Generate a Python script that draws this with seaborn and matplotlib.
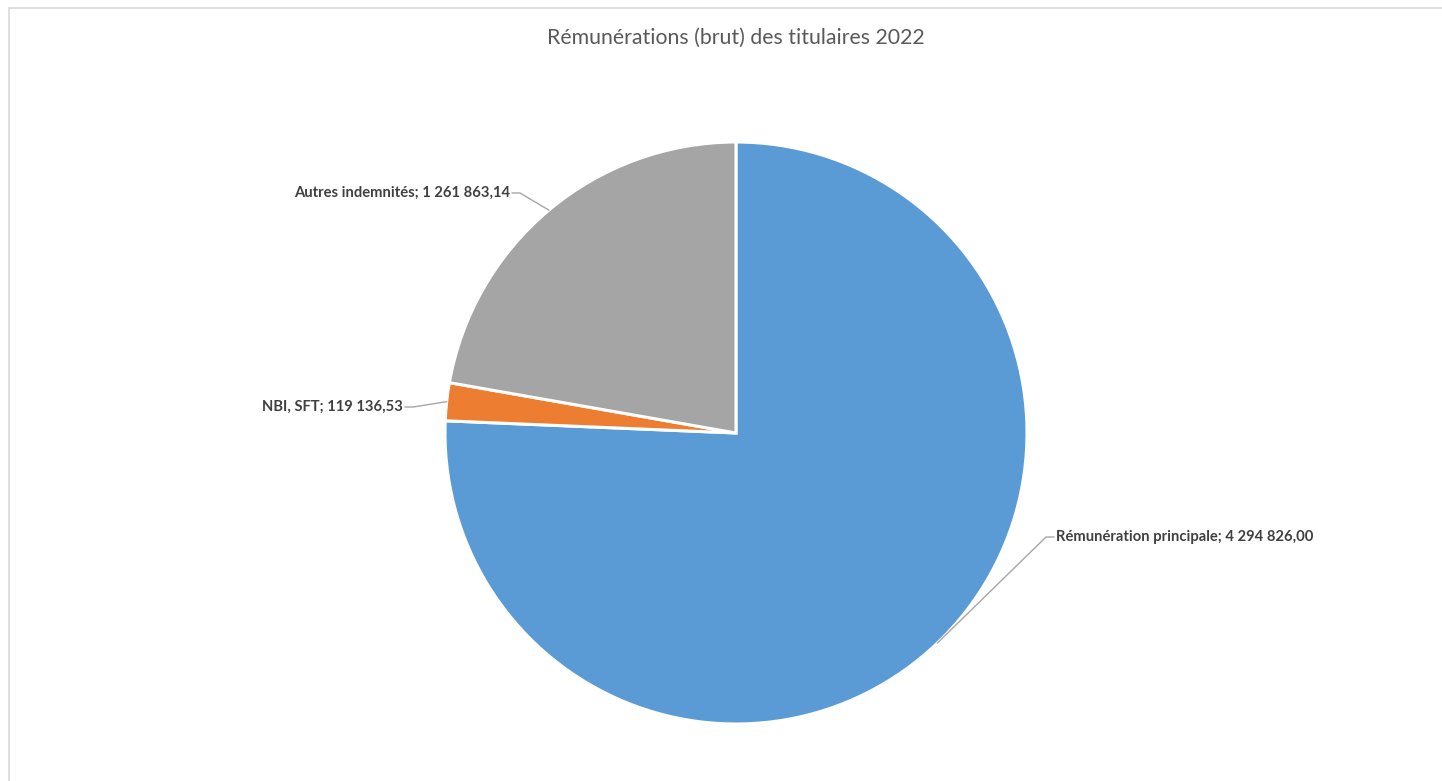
import numpy as np
import matplotlib
matplotlib.use("Agg")
import matplotlib.pyplot as plt
import seaborn as sns
from matplotlib.patches import Rectangle

categories = ["Rémunération principale", "NBI, SFT", "Autres indemnités"]
values = [4294826.00, 119136.53, 1261863.14]
value_labels = ["4 294 826,00", "119 136,53", "1 261 863,14"]
colors = ["#5B9BD5", "#ED7D31", "#A5A5A5"]
title = "Rémunérations (brut) des titulaires 2022"

sns.set_theme(style="white")
plt.rcParams['font.family'] = ['Lato', 'DejaVu Sans']

W, H = 1442, 781
fig = plt.figure(figsize=(W / 100, H / 100), dpi=100)
ax = fig.add_axes([0, 0, 1, 1])
ax.set_xlim(0, W)
ax.set_ylim(0, H)
ax.axis("off")

cx, cy, r = 736, H - 433, 291
wedges, _ = ax.pie(values, colors=colors, startangle=90, counterclock=False,
                   center=(cx, cy), radius=r,
                   wedgeprops=dict(edgecolor="white", linewidth=2.2))
ax.set_xlim(0, W)
ax.set_ylim(0, H)
ax.set_aspect("equal")

# chart border
ax.add_patch(Rectangle((9, -10), W, H - 8 + 10, fill=False, edgecolor="#D9D9D9", lw=1.2, zorder=0))

ax.text(cx, H - 38, title, ha="center", va="center", fontsize=15.3, color="#595959")

# label layout: (text x, text y in px, ha)
label_pos = [(1056, 537, "left"), (403, 407, "right"), (510, 193, "right")]
for w, cat, vl, (tx, ty, ha) in zip(wedges, categories, value_labels, label_pos):
    mid = np.deg2rad((w.theta1 + w.theta2) / 2)
    ax_x = cx + r * np.cos(mid)
    ax_y = cy + r * np.sin(mid)
    ty_d = H - ty
    ax.text(tx, ty_d, f"{cat}; {vl}", ha=ha, va="center", fontsize=10.6,
            fontweight="bold", color="#404040")
    if ha == "left":
        x0 = tx - 2
        x1 = x0 - 8
    else:
        x0 = tx + 2
        x1 = x0 + 8
    ax.plot([x0, x1, ax_x], [ty_d, ty_d, ax_y], color="#A6A6A6", lw=1)

fig.savefig("out.png", dpi=100, facecolor="white")
